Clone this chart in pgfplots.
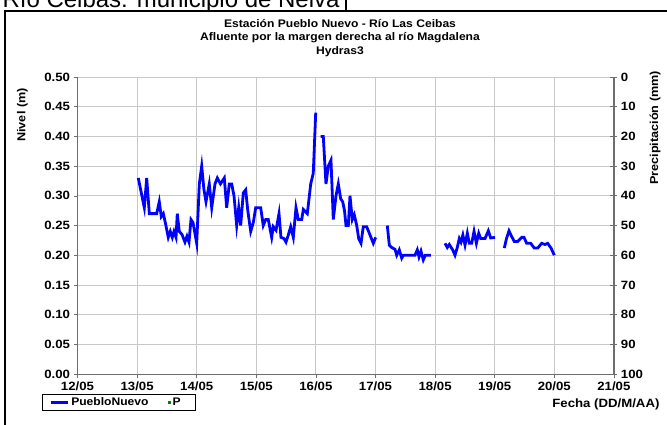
\documentclass[border=0pt]{standalone}
\usepackage{fontspec}
\setmainfont{Liberation Sans}[FakeStretch=1.1]
\newfontfamily\headfont{Liberation Sans}
\usepackage{pgfplots}
\pgfplotsset{compat=1.18}

\definecolor{exblue}{RGB}{0,0,255}
\definecolor{exgreen}{RGB}{0,128,0}
\definecolor{gridgray}{RGB}{200,200,200}
\definecolor{axgray}{RGB}{110,110,110}

\begin{document}
\begin{tikzpicture}[x=1pt,y=1pt]
\useasboundingbox (0,0) rectangle (667,424);
% outer frame and the clipped heading above it
\node[anchor=base west, font=\headfont\fontsize{24}{24}\selectfont] at (-1,416) {Río Ceibas: municipio de Neiva};
\draw[line width=1.5pt] (346,413) -- (346,430);
\draw[line width=2.5pt] (5,-5) -- (5,413) -- (690,413);

\node[font=\fontsize{11}{13.5}\bfseries\selectfont, align=center] at (340,386)
  {Estación Pueblo Nuevo - Río Las Ceibas\\Afluente por la margen derecha al río Magdalena\\Hydras3};
\node[rotate=90, font=\fontsize{11.5}{12}\bfseries\selectfont] at (22.5,309) {Nivel (m)};
\node[rotate=90, font=\fontsize{11.5}{12}\bfseries\selectfont] at (655,296) {Precipitación (mm)};
\node[anchor=east, font=\fontsize{12}{12}\bfseries\selectfont] at (663,20) {Fecha (DD/M/AA)};

\begin{axis}[
  at={(77.5pt,50pt)}, anchor=south west,
  width=536.4pt, height=297pt, scale only axis,
  xmin=12, xmax=21, ymin=0, ymax=0.5,
  xtick={12,13,14,15,16,17,18,19,20,21},
  xticklabels={12/05,13/05,14/05,15/05,16/05,17/05,18/05,19/05,20/05,21/05},
  ytick={0,0.05,0.1,0.15,0.2,0.25,0.3,0.35,0.4,0.45,0.5},
  yticklabel style={/pgf/number format/.cd, fixed, fixed zerofill, precision=2},
  /pgf/number format/assume math mode=true,
  ticklabel style={font=\fontsize{12}{12}\bfseries\selectfont},
  axis x line*=bottom, axis y line*=left,
  axis line style={axgray, -},
  tick align=outside, major tick length=4pt,
  tick style={axgray, line width=0.6pt},
  xmajorgrids, ymajorgrids,
  major grid style={gridgray, line width=0.8pt},
  unbounded coords=jump,
  legend columns=2,
  legend style={at={(axis description cs:-0.066,-0.095)}, anchor=west,
    draw=black, line width=0.6pt, font=\fontsize{11}{11}\bfseries\selectfont,
    inner xsep=7pt, inner ysep=1.5pt},
  legend cell align=left,
]
\addplot[exblue, line width=2.8pt] coordinates {
(13.020,0.33) (13.121,0.28) (13.161,0.33) (13.205,0.27) (13.329,0.27) (13.372,0.29)
(13.406,0.265) (13.440,0.27) (13.473,0.255) (13.523,0.23) (13.557,0.24) (13.591,0.23)
(13.619,0.24) (13.653,0.23) (13.674,0.27) (13.708,0.24) (13.753,0.235) (13.803,0.222)
(13.837,0.232) (13.871,0.222) (13.904,0.26) (13.938,0.255) (14.000,0.22) (14.044,0.32)
(14.084,0.35) (14.122,0.31) (14.156,0.29) (14.211,0.32) (14.252,0.28) (14.307,0.32)
(14.346,0.33) (14.399,0.32) (14.463,0.33) (14.503,0.28) (14.547,0.32) (14.587,0.32)
(14.626,0.30) (14.671,0.25) (14.705,0.28) (14.738,0.25) (14.782,0.305) (14.822,0.31)
(14.856,0.276) (14.906,0.24) (14.950,0.255) (14.990,0.28) (15.074,0.28) (15.117,0.25)
(15.158,0.26) (15.201,0.26) (15.258,0.23) (15.285,0.248) (15.331,0.242) (15.381,0.27)
(15.414,0.23) (15.465,0.228) (15.498,0.222) (15.537,0.234) (15.577,0.248) (15.621,0.23)
(15.666,0.28) (15.705,0.26) (15.762,0.26) (15.789,0.277) (15.856,0.27) (15.913,0.32)
(15.956,0.338) (15.997,0.44)
(16.040,nan)
(16.081,0.40) (16.124,0.40) (16.169,0.32) (16.208,0.35) (16.253,0.36) (16.292,0.26)
(16.337,0.30) (16.376,0.32) (16.416,0.295) (16.450,0.29) (16.480,0.275) (16.505,0.25)
(16.544,0.25) (16.572,0.30) (16.611,0.26) (16.644,0.268) (16.685,0.25) (16.718,0.228)
(16.757,0.22) (16.795,0.248) (16.852,0.248) (16.908,0.234) (16.963,0.22) (17.003,0.23)
(17.100,nan)
(17.198,0.25) (17.232,0.217) (17.272,0.213) (17.327,0.21) (17.356,0.20) (17.399,0.209)
(17.440,0.195) (17.466,0.20) (17.579,0.20) (17.663,0.20) (17.701,0.209) (17.730,0.197)
(17.763,0.207) (17.802,0.192) (17.836,0.20) (17.931,0.20)
(18.050,nan)
(18.166,0.22) (18.205,0.213) (18.238,0.218) (18.295,0.209) (18.334,0.20) (18.372,0.213)
(18.406,0.228) (18.434,0.222) (18.466,0.234) (18.502,0.217) (18.541,0.237) (18.574,0.22)
(18.614,0.22) (18.653,0.24) (18.693,0.22) (18.732,0.237) (18.765,0.228) (18.837,0.228)
(18.893,0.241) (18.933,0.229) (19.005,0.23)
(19.080,nan)
(19.161,0.212) (19.198,0.228) (19.240,0.241) (19.282,0.232) (19.329,0.223) (19.386,0.223)
(19.453,0.23) (19.492,0.23) (19.537,0.22) (19.604,0.22) (19.664,0.212) (19.721,0.212)
(19.788,0.22) (19.844,0.218) (19.889,0.22) (19.945,0.212) (20.000,0.20)
};
\addlegendentry{\makebox[95pt][l]{PuebloNuevo}}
\addlegendimage{only marks, mark=square*, mark size=1.2pt, exgreen}
\addlegendentry{\makebox[14pt][l]{P}}
\end{axis}

\begin{axis}[
  at={(77.5pt,50pt)}, anchor=south west,
  width=536.4pt, height=297pt, scale only axis,
  xmin=12, xmax=21, ymin=0, ymax=100, y dir=reverse,
  axis x line=none, axis y line*=right,
  ytick={0,10,20,30,40,50,60,70,80,90,100},
  /pgf/number format/assume math mode=true,
  ticklabel style={font=\fontsize{12}{12}\bfseries\selectfont},
  axis line style={axgray, line width=1.6pt, -},
  tick align=center, major tick length=7pt,
  tick style={axgray, line width=0.8pt},
]
\end{axis}
\end{tikzpicture}
\end{document}
